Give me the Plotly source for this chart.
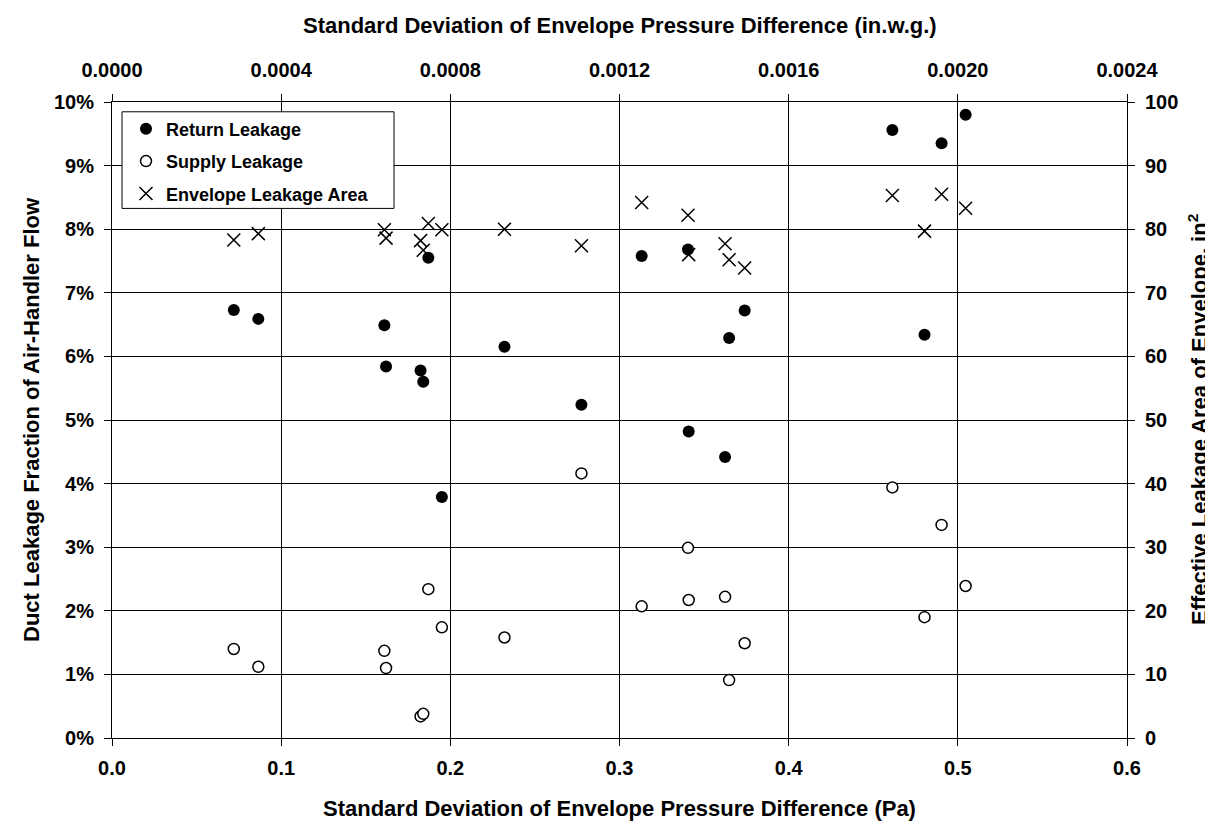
import plotly.graph_objects as go

# ---- data ----
x_return = [0.072, 0.0865, 0.161, 0.162, 0.1824, 0.184, 0.187, 0.195, 0.232, 0.2775,
            0.3131, 0.3405, 0.3409, 0.3624, 0.3648, 0.374, 0.4613, 0.4803, 0.4904, 0.5046]
return_leak = [6.73, 6.59, 6.49, 5.84, 5.78, 5.60, 7.55, 3.79, 6.15, 5.24,
               7.58, 7.68, 4.82, 4.42, 6.29, 6.72, 9.56, 6.34, 9.35, 9.80]

x_supply = [0.072, 0.0865, 0.161, 0.162, 0.1824, 0.184, 0.187, 0.195, 0.232, 0.2775,
            0.3131, 0.3405, 0.3409, 0.3624, 0.3648, 0.374, 0.4613, 0.4803, 0.4904, 0.5046]
supply_leak = [1.40, 1.12, 1.37, 1.10, 0.34, 0.38, 2.34, 1.74, 1.58, 4.16,
               2.07, 2.99, 2.17, 2.22, 0.91, 1.49, 3.94, 1.90, 3.35, 2.39]

x_env = [0.072, 0.0865, 0.161, 0.162, 0.1824, 0.184, 0.187, 0.195, 0.232, 0.2775,
         0.3131, 0.3405, 0.3409, 0.3624, 0.3648, 0.374, 0.4613, 0.4803, 0.4904, 0.5046]
env_area = [78.3, 79.3, 79.9, 78.6, 78.2, 76.7, 80.9, 79.9, 80.0, 77.4,
            84.2, 82.2, 76.0, 77.7, 75.2, 73.9, 85.3, 79.7, 85.5, 83.3]

x_ticks_pa = [0.0, 0.1, 0.2, 0.3, 0.4, 0.5, 0.6]
x_ticks_inwg = [0.0, 0.0004, 0.0008, 0.0012, 0.0016, 0.0020, 0.0024]
y_ticks_pct = [0, 1, 2, 3, 4, 5, 6, 7, 8, 9, 10]
y_ticks_area = [0, 10, 20, 30, 40, 50, 60, 70, 80, 90, 100]

FONT = "Liberation Sans, Arial, sans-serif"
TICK = dict(family=FONT, size=20, color="black", weight="bold")
TITLE = dict(family=FONT, size=22, color="black", weight="bold")

fig = go.Figure()
fig.add_trace(go.Scatter(
    x=x_return, y=return_leak, mode="markers", name="Return Leakage",
    legendgroup="a",
    marker=dict(symbol="circle", size=12, color="black", line=dict(width=0)),
))
fig.add_trace(go.Scatter(
    x=x_supply, y=supply_leak, mode="markers", name="Supply Leakage",
    legendgroup="b",
    marker=dict(symbol="circle", size=11, color="white", line=dict(width=1.5, color="black")),
))
fig.add_trace(go.Scatter(
    x=x_env, y=env_area, mode="markers", name="Envelope Leakage Area",
    legendgroup="c", yaxis="y2",
    marker=dict(symbol="x-thin", size=13, color="black", line=dict(width=1.5, color="black")),
))
# invisible trace to activate the top axis
fig.add_trace(go.Scatter(x=[0, 0.0024], y=[None, None], xaxis="x2", showlegend=False,
                         hoverinfo="skip", mode="markers"))

W, H = 1213, 822
L, R, T, B = 104, 1119, 93.5, 730
pw, ph = R - L, B - T

def px(xp):
    return (xp - L) / pw

def py(yp):
    return (B - yp) / ph

fig.update_layout(
    width=W, height=H,
    margin=dict(l=L, r=W - R, t=T, b=H - B, pad=0),
    paper_bgcolor="white", plot_bgcolor="white",
    font=dict(family=FONT, color="black"),
    showlegend=True,
    legend=dict(
        x=px(118), y=py(102), xanchor="left", yanchor="top",
        bgcolor="rgba(0,0,0,0)", borderwidth=0,
        font=dict(family=FONT, size=18, color="black", weight="bold"),
        tracegroupgap=6, itemwidth=30,
    ),
    xaxis=dict(
        range=[0, 0.6], tickvals=x_ticks_pa, ticktext=[f"{v:.1f}" for v in x_ticks_pa],
        showgrid=True, gridcolor="black", gridwidth=1,
        showline=True, linecolor="black", linewidth=1,
        ticks="outside", ticklen=7, tickcolor="black", tickwidth=1,
        tickfont=TICK, zeroline=False, ticklabelstandoff=5,
    ),
    xaxis2=dict(
        range=[0, 0.0024], overlaying="x", side="top",
        tickvals=x_ticks_inwg, ticktext=[f"{v:.4f}" for v in x_ticks_inwg],
        showgrid=False, showline=True, linecolor="black", linewidth=1,
        ticks="outside", ticklen=7, tickcolor="black", tickwidth=1,
        tickfont=TICK, zeroline=False, ticklabelstandoff=9,
    ),
    yaxis=dict(
        range=[0, 10], tickvals=y_ticks_pct, ticktext=[f"{v}%" for v in y_ticks_pct],
        showgrid=True, gridcolor="black", gridwidth=1,
        showline=True, linecolor="black", linewidth=1,
        ticks="outside", ticklen=7, tickcolor="black", tickwidth=1,
        tickfont=TICK, zeroline=False, ticklabelstandoff=6,
    ),
    yaxis2=dict(
        range=[0, 100], overlaying="y", side="right",
        tickvals=y_ticks_area, ticktext=[str(v) for v in y_ticks_area],
        showgrid=False, showline=True, linecolor="black", linewidth=1,
        ticks="outside", ticklen=7, tickcolor="black", tickwidth=1,
        tickfont=TICK, zeroline=False, ticklabelstandoff=6,
    ),
    shapes=[dict(
        type="rect", xref="paper", yref="paper",
        x0=px(114), x1=px(386), y0=py(200), y1=py(103.3),
        fillcolor="white", line=dict(color="black", width=1), layer="above",
    )],
    annotations=[
        dict(text="Standard Deviation of Envelope Pressure Difference (Pa)",
             xref="paper", yref="paper", x=0.5, y=py(801), showarrow=False,
             xanchor="center", yanchor="middle", font=TITLE),
        dict(text="Standard Deviation of Envelope Pressure Difference (in.w.g.)",
             xref="paper", yref="paper", x=0.5, y=py(17), showarrow=False,
             xanchor="center", yanchor="middle", font=TITLE),
        dict(text="Duct Leakage Fraction of Air-Handler Flow",
             xref="paper", yref="paper", x=px(23), y=0.5, showarrow=False,
             xanchor="center", yanchor="middle", textangle=-90, font=TITLE),
        dict(text="Effective Leakage Area of Envelope, in<sup>2</sup>",
             xref="paper", yref="paper", x=px(1190), y=0.5, showarrow=False,
             xanchor="center", yanchor="middle", textangle=-90, font=TITLE),
    ],
)

fig.write_html("out.html")
